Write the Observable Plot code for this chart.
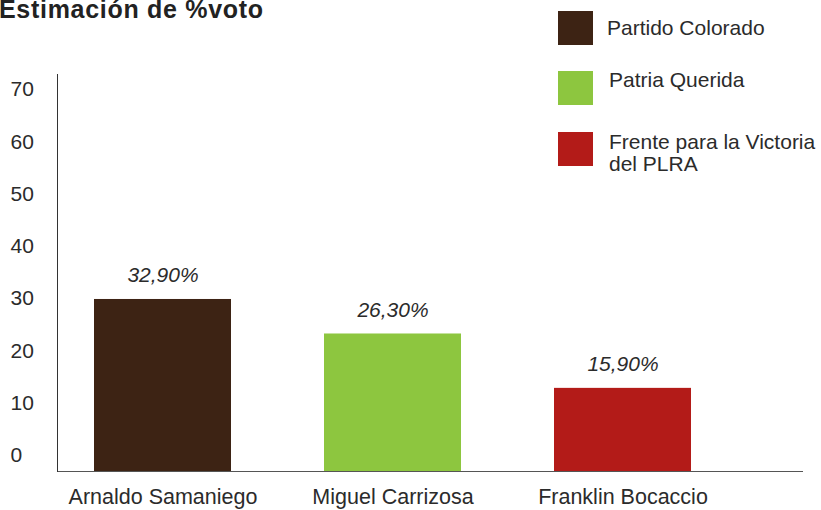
<!DOCTYPE html>
<html>
<head>
<meta charset="utf-8">
<script src="https://cdn.jsdelivr.net/npm/d3@7"></script>
<script src="https://cdn.jsdelivr.net/npm/@observablehq/plot@0.6"></script>
<style>
  html, body { margin: 0; padding: 0; background: #fff; }
  #wrap { position: relative; width: 821px; height: 510px; overflow: hidden; font-family: "Liberation Sans", Arial, sans-serif; color: #2b2b2b; }
  #title { position: absolute; left: -1px; top: -5px; font-size: 25px; font-weight: bold; letter-spacing: 0.7px; color: #222; white-space: nowrap; }
  #legend { position: absolute; left: 558px; top: 11px; }
  .item { position: absolute; left: 0; width: 270px; }
  .sw { position: absolute; left: 0; top: 0; width: 35px; height: 34px; }
  .lab { position: absolute; left: 50px; font-size: 21px; line-height: 22px; white-space: nowrap; color: #2b2b2b; }
</style>
</head>
<body>
<div id="wrap">
  <div id="chart"></div>
  <div id="title">Estimación de %voto</div>
  <div id="legend"></div>
</div>
<script>
const candidates = ["Arnaldo Samaniego", "Miguel Carrizosa", "Franklin Bocaccio"];
const values = [32.9, 26.3, 15.9];
const valueLabels = ["32,90%", "26,30%", "15,90%"];
const parties = ["Partido Colorado", "Patria Querida", "Frente para la Victoria\ndel PLRA"];
const colors = ["#3d2314", "#8dc63f", "#b31b18"];
const yTicks = [0, 10, 20, 30, 40, 50, 60, 70];

const data = candidates.map((c, i) => ({candidate: c, value: values[i], label: valueLabels[i], party: parties[i]}));

const font = "Liberation Sans, Arial, sans-serif";

const chart = Plot.plot({
  width: 821,
  height: 510,
  marginLeft: 57,
  marginRight: 18,
  marginTop: 74,
  marginBottom: 39,
  style: {fontFamily: font, fontSize: "21px", color: "#2b2b2b", background: "#fff"},
  x: {domain: candidates, range: [93, 691], paddingInner: 0.406, paddingOuter: 0, label: null},
  y: {domain: [0, 70], range: [471, 105], label: null},
  color: {domain: parties, range: colors},
  marks: [
    Plot.barY(data, {x: "candidate", y: "value", fill: "party"}),
    Plot.text(data, {x: "candidate", y: "value", text: "label", dy: -24, fontStyle: "italic", fontSize: 21, fill: "#2b2b2b"}),
    Plot.ruleY([0], {stroke: "#555", strokeWidth: 1.2}),
    Plot.frame({anchor: "left", stroke: "#333"}),
    Plot.axisY(yTicks, {anchor: "left", tickSize: 0, tickPadding: 3, textAnchor: "start", dx: -44, dy: -16, fontSize: 21, fill: "#2b2b2b", tickFormat: d => String(d), label: null}),
    Plot.axisX({anchor: "bottom", tickSize: 0, tickPadding: 17, fontSize: 21.5, fill: "#2b2b2b", label: null})
  ]
});
document.getElementById("chart").appendChild(chart);

const legend = document.getElementById("legend");
const tops = [0, 60, 121];
const labTops = [6, 58, 120];
parties.forEach((p, i) => {
  const item = document.createElement("div");
  item.className = "item";
  item.style.top = tops[i] + "px";
  const sw = document.createElement("div");
  sw.className = "sw";
  sw.style.background = colors[i];
  const lab = document.createElement("div");
  lab.className = "lab";
  lab.style.top = (labTops[i] - tops[i]) + "px";
  lab.style.left = (i === 0 ? 49 : 51) + "px";
  lab.innerHTML = p.split("\n").join("<br>");
  item.appendChild(sw);
  item.appendChild(lab);
  legend.appendChild(item);
});
</script>
</body>
</html>
